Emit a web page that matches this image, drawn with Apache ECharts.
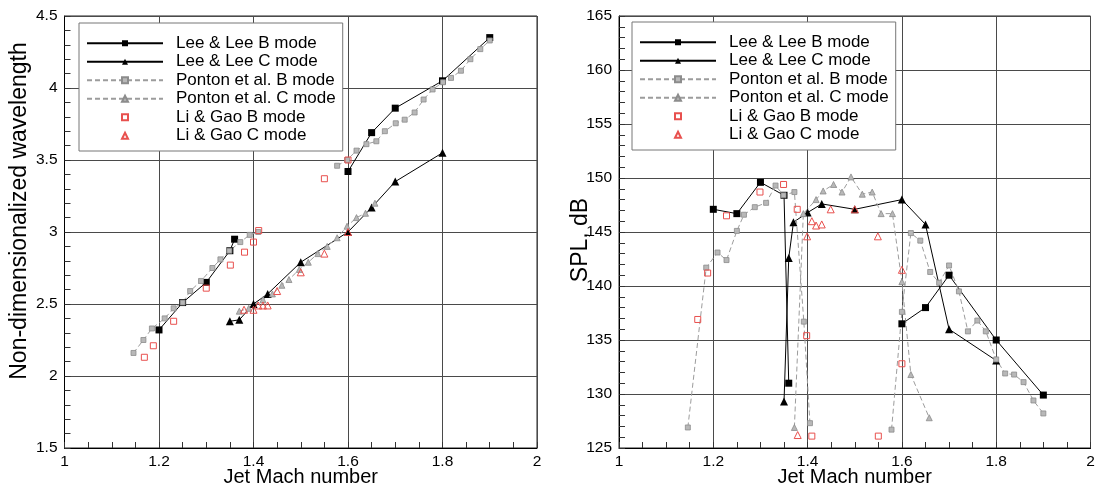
<!DOCTYPE html>
<html>
<head>
<meta charset="utf-8">
<script src="https://cdn.jsdelivr.net/npm/echarts@6/dist/echarts.min.js"></script>
<style>
  html, body { margin: 0; padding: 0; background: #fff; }
  #chart { width: 1096px; height: 488px; }
</style>
</head>
<body>
<div id="chart"></div>
<script>
// ---- Series names ----
const NAMES = ['Lee & Lee B mode', 'Lee & Lee C mode', 'Ponton et al. B mode',
               'Ponton et al. C mode', 'Li & Gao B mode', 'Li & Gao C mode'];

// ---- Left panel: non-dimensionalized wavelength vs jet Mach number ----
const leeB_wave_a = [[1.20,2.32],[1.25,2.51],[1.30,2.65],[1.35,2.87],[1.36,2.95]];
const leeB_wave_b = [[1.60,3.42],[1.65,3.69],[1.70,3.86],[1.80,4.05],[1.90,4.35]];
const leeC_wave = [[1.35,2.38],[1.37,2.39],[1.40,2.50],[1.43,2.57],[1.50,2.79],
                   [1.60,3.00],[1.65,3.17],[1.70,3.35],[1.80,3.55]];
const pontonB_wave_a = [[1.146,2.16],[1.167,2.25],[1.185,2.33],[1.212,2.40],[1.231,2.47],
                        [1.250,2.51],[1.266,2.59],[1.289,2.66],[1.313,2.75],[1.330,2.81],
                        [1.349,2.87],[1.372,2.93],[1.392,2.98],[1.410,3.00]];
const pontonB_wave_b = [[1.577,3.46],[1.598,3.50],[1.618,3.565],[1.639,3.61],[1.660,3.63],
                        [1.678,3.70],[1.701,3.755],[1.720,3.78],[1.741,3.83],[1.760,3.92],
                        [1.779,3.99],[1.801,4.04],[1.818,4.07],[1.839,4.12],[1.859,4.20],
                        [1.880,4.27],[1.900,4.33]];
const pontonC_wave = [[1.370,2.45],[1.390,2.47],[1.420,2.53],[1.440,2.57],[1.460,2.63],
                      [1.475,2.67],[1.497,2.74],[1.516,2.79],[1.536,2.85],[1.556,2.90],
                      [1.577,2.96],[1.598,3.04],[1.618,3.10],[1.637,3.13],[1.657,3.20]];
const liB_wave = [[1.169,2.13],[1.188,2.21],[1.231,2.38],[1.300,2.61],[1.351,2.77],
                  [1.381,2.86],[1.400,2.93],[1.411,3.01],[1.550,3.37],[1.600,3.50]];
const liC_wave = [[1.380,2.46],[1.400,2.46],[1.410,2.49],[1.420,2.49],[1.430,2.49],
                  [1.450,2.59],[1.500,2.72],[1.550,2.85],[1.600,3.00]];

// ---- Right panel: SPL (dB) vs jet Mach number ----
const leeB_spl_a = [[1.20,147.1],[1.25,146.7],[1.30,149.6],[1.35,148.4],[1.36,131.0]];
const leeB_spl_b = [[1.60,136.5],[1.65,138.0],[1.70,141.0],[1.80,135.0],[1.90,129.9]];
const leeC_spl = [[1.35,129.3],[1.36,142.6],[1.37,145.9],[1.40,146.8],[1.43,147.6],
                  [1.50,147.1],[1.60,148.0],[1.65,145.7],[1.70,136.0],[1.80,133.1]];
const pontonB_spl_a = [[1.146,126.9],[1.185,141.7],[1.209,143.1],[1.228,142.4],[1.250,145.1],
                       [1.265,146.6],[1.288,147.3],[1.312,147.7],[1.332,149.3],[1.349,148.4],
                       [1.372,148.7],[1.392,136.7],[1.405,127.3]];
const pontonB_spl_b = [[1.578,126.7],[1.600,137.6],[1.619,144.9],[1.639,144.2],[1.660,141.3],
                       [1.679,140.3],[1.700,141.9],[1.721,139.5],[1.740,135.8],[1.760,136.8],
                       [1.778,135.8],[1.800,133.2],[1.819,131.9],[1.838,131.8],[1.858,131.1],
                       [1.879,129.4],[1.900,128.2]];
const pontonC_spl = [[1.372,126.9],[1.391,146.7],[1.418,148.0],[1.433,148.8],[1.455,149.4],
                     [1.473,148.7],[1.492,150.1],[1.516,148.5],[1.537,148.7],[1.556,146.7],
                     [1.580,146.7],[1.600,140.4],[1.619,131.8],[1.658,127.8]];
const liB_spl = [[1.167,136.9],[1.188,141.2],[1.228,146.5],[1.299,148.7],[1.349,149.4],
                 [1.378,147.1],[1.398,135.4],[1.409,126.1],[1.550,126.1],[1.600,132.8]];
const liC_spl = [[1.379,126.2],[1.399,144.6],[1.409,146.0],[1.418,145.6],[1.430,145.7],
                 [1.449,147.1],[1.500,147.1],[1.549,144.6],[1.600,141.5]];

// ---- Axis ranges ----
const xRange = { min: 1, max: 2, interval: 0.2 };
const waveRange = { min: 1.5, max: 4.5, interval: 0.5 };
const splRange = { min: 125, max: 165, interval: 5 };

const FONT = '"Liberation Sans", Arial, Helvetica, sans-serif';
const RED = '#e8504e';
const NO_LINE = { width: 0, opacity: 0 };

// ---- Styles per data source ----
const styles = {
  leeB: { symbol: 'rect', symbolSize: 7,
          lineStyle: { color: '#000', width: 1 }, itemStyle: { color: '#000' } },
  leeC: { symbol: 'triangle', symbolSize: 8,
          lineStyle: { color: '#000', width: 1 }, itemStyle: { color: '#000' } },
  pontonB: { symbol: 'rect', symbolSize: 5,
             lineStyle: { color: '#9c9c9c', width: 1, type: [5, 3] },
             itemStyle: { color: '#b8b8b8', borderColor: '#8c8c8c', borderWidth: 0.8 } },
  pontonC: { symbol: 'triangle', symbolSize: 6,
             lineStyle: { color: '#9c9c9c', width: 1, type: [5, 3] },
             itemStyle: { color: '#b8b8b8', borderColor: '#8c8c8c', borderWidth: 0.8 } },
  // marker-only data: the connecting line is switched off
  liB: { symbol: 'rect', symbolSize: 6, lineStyle: NO_LINE,
         itemStyle: { color: 'rgba(255,255,255,0)', borderColor: RED, borderWidth: 1 } },
  liC: { symbol: 'triangle', symbolSize: 7, lineStyle: NO_LINE,
         itemStyle: { color: 'rgba(255,255,255,0)', borderColor: RED, borderWidth: 1 } }
};

function series(name, data, panel, style) {
  return Object.assign({ type: 'line', name: name, data: data, xAxisIndex: panel, yAxisIndex: panel,
                         showSymbol: true, showAllSymbol: true, animation: false, silent: true }, style);
}

function xAxis(gridIndex) {
  return {
    type: 'value', gridIndex: gridIndex, min: xRange.min, max: xRange.max, interval: xRange.interval,
    name: 'Jet Mach number', nameLocation: 'middle', nameGap: 19, nameMoveOverlap: false,
    nameTextStyle: { fontFamily: FONT, fontSize: 20, color: '#000' },
    axisLine: { show: true, onZero: false, lineStyle: { color: '#000', width: 1 } },
    axisTick: { show: true, inside: true, length: 6, lineStyle: { color: '#333' } },
    minorTick: { show: true, splitNumber: 4, length: 6, lineStyle: { color: '#333', width: 1 } },
    splitLine: { show: true, lineStyle: { color: '#4a4a4a', width: 1 } },
    axisLabel: { fontFamily: FONT, fontSize: 15.5, color: '#000', margin: 6 }
  };
}

function yAxis(gridIndex, range, name, gap, pad) {
  return {
    type: 'value', gridIndex: gridIndex, min: range.min, max: range.max, interval: range.interval,
    name: name, nameLocation: 'middle', nameGap: gap, nameRotate: 90, nameMoveOverlap: false,
    nameTextStyle: { fontFamily: FONT, fontSize: 23, color: '#000', padding: pad },
    axisLine: { show: true, onZero: false, lineStyle: { color: '#000', width: 1 } },
    axisTick: { show: true, inside: true, length: 6, lineStyle: { color: '#333' } },
    minorTick: { show: true, splitNumber: 5, length: 6, lineStyle: { color: '#333', width: 1 } },
    splitLine: { show: true, lineStyle: { color: '#4a4a4a', width: 1 } },
    axisLabel: { fontFamily: FONT, fontSize: 15.5, color: '#000', margin: 7 }
  };
}

function legend(left, top) {
  return {
    data: NAMES.map(function (n, i) {
      return i >= 4 ? { name: n, lineStyle: { opacity: 0, width: 0 } } : { name: n };
    }),
    orient: 'vertical', left: left, top: top,
    itemWidth: 76, itemHeight: 7.5, itemGap: 0,
    padding: [11, 7, 6, 7],
    backgroundColor: '#fff', borderColor: '#777', borderWidth: 1, borderRadius: 0,
    selectedMode: false,
    textStyle: { fontFamily: FONT, fontSize: 17, color: '#000', lineHeight: 18.5, padding: [0, 0, 0, 8] }
  };
}

const gridBase = { top: 16, height: 432, show: true, borderColor: '#222', borderWidth: 1,
                   containLabel: false, outerBoundsMode: 'none' };

const chart = echarts.init(document.getElementById('chart'), null, { renderer: 'canvas' });
chart.setOption({
  animation: false,
  backgroundColor: '#fff',
  grid: [
    Object.assign({ left: 64.5, width: 472.5 }, gridBase),
    Object.assign({ left: 619, width: 471.5 }, gridBase)
  ],
  xAxis: [xAxis(0), xAxis(1)],
  yAxis: [
    yAxis(0, waveRange, 'Non-dimensionalized wavelength', 33, [0, 0, 0, 42]),
    yAxis(1, splRange, 'SPL, dB', 27, [0, 16, 0, 0])
  ],
  legend: [legend(79, 23), legend(632, 22)],
  series: [
    series(NAMES[0], leeB_wave_a, 0, styles.leeB),
    series(NAMES[0], leeB_wave_b, 0, styles.leeB),
    series(NAMES[1], leeC_wave, 0, styles.leeC),
    series(NAMES[2], pontonB_wave_a, 0, styles.pontonB),
    series(NAMES[2], pontonB_wave_b, 0, styles.pontonB),
    series(NAMES[3], pontonC_wave, 0, styles.pontonC),
    series(NAMES[4], liB_wave, 0, styles.liB),
    series(NAMES[5], liC_wave, 0, styles.liC),

    series(NAMES[0], leeB_spl_a, 1, styles.leeB),
    series(NAMES[0], leeB_spl_b, 1, styles.leeB),
    series(NAMES[1], leeC_spl, 1, styles.leeC),
    series(NAMES[2], pontonB_spl_a, 1, styles.pontonB),
    series(NAMES[2], pontonB_spl_b, 1, styles.pontonB),
    series(NAMES[3], pontonC_spl, 1, styles.pontonC),
    series(NAMES[4], liB_spl, 1, styles.liB),
    series(NAMES[5], liC_spl, 1, styles.liC)
  ]
});
</script>
</body>
</html>
